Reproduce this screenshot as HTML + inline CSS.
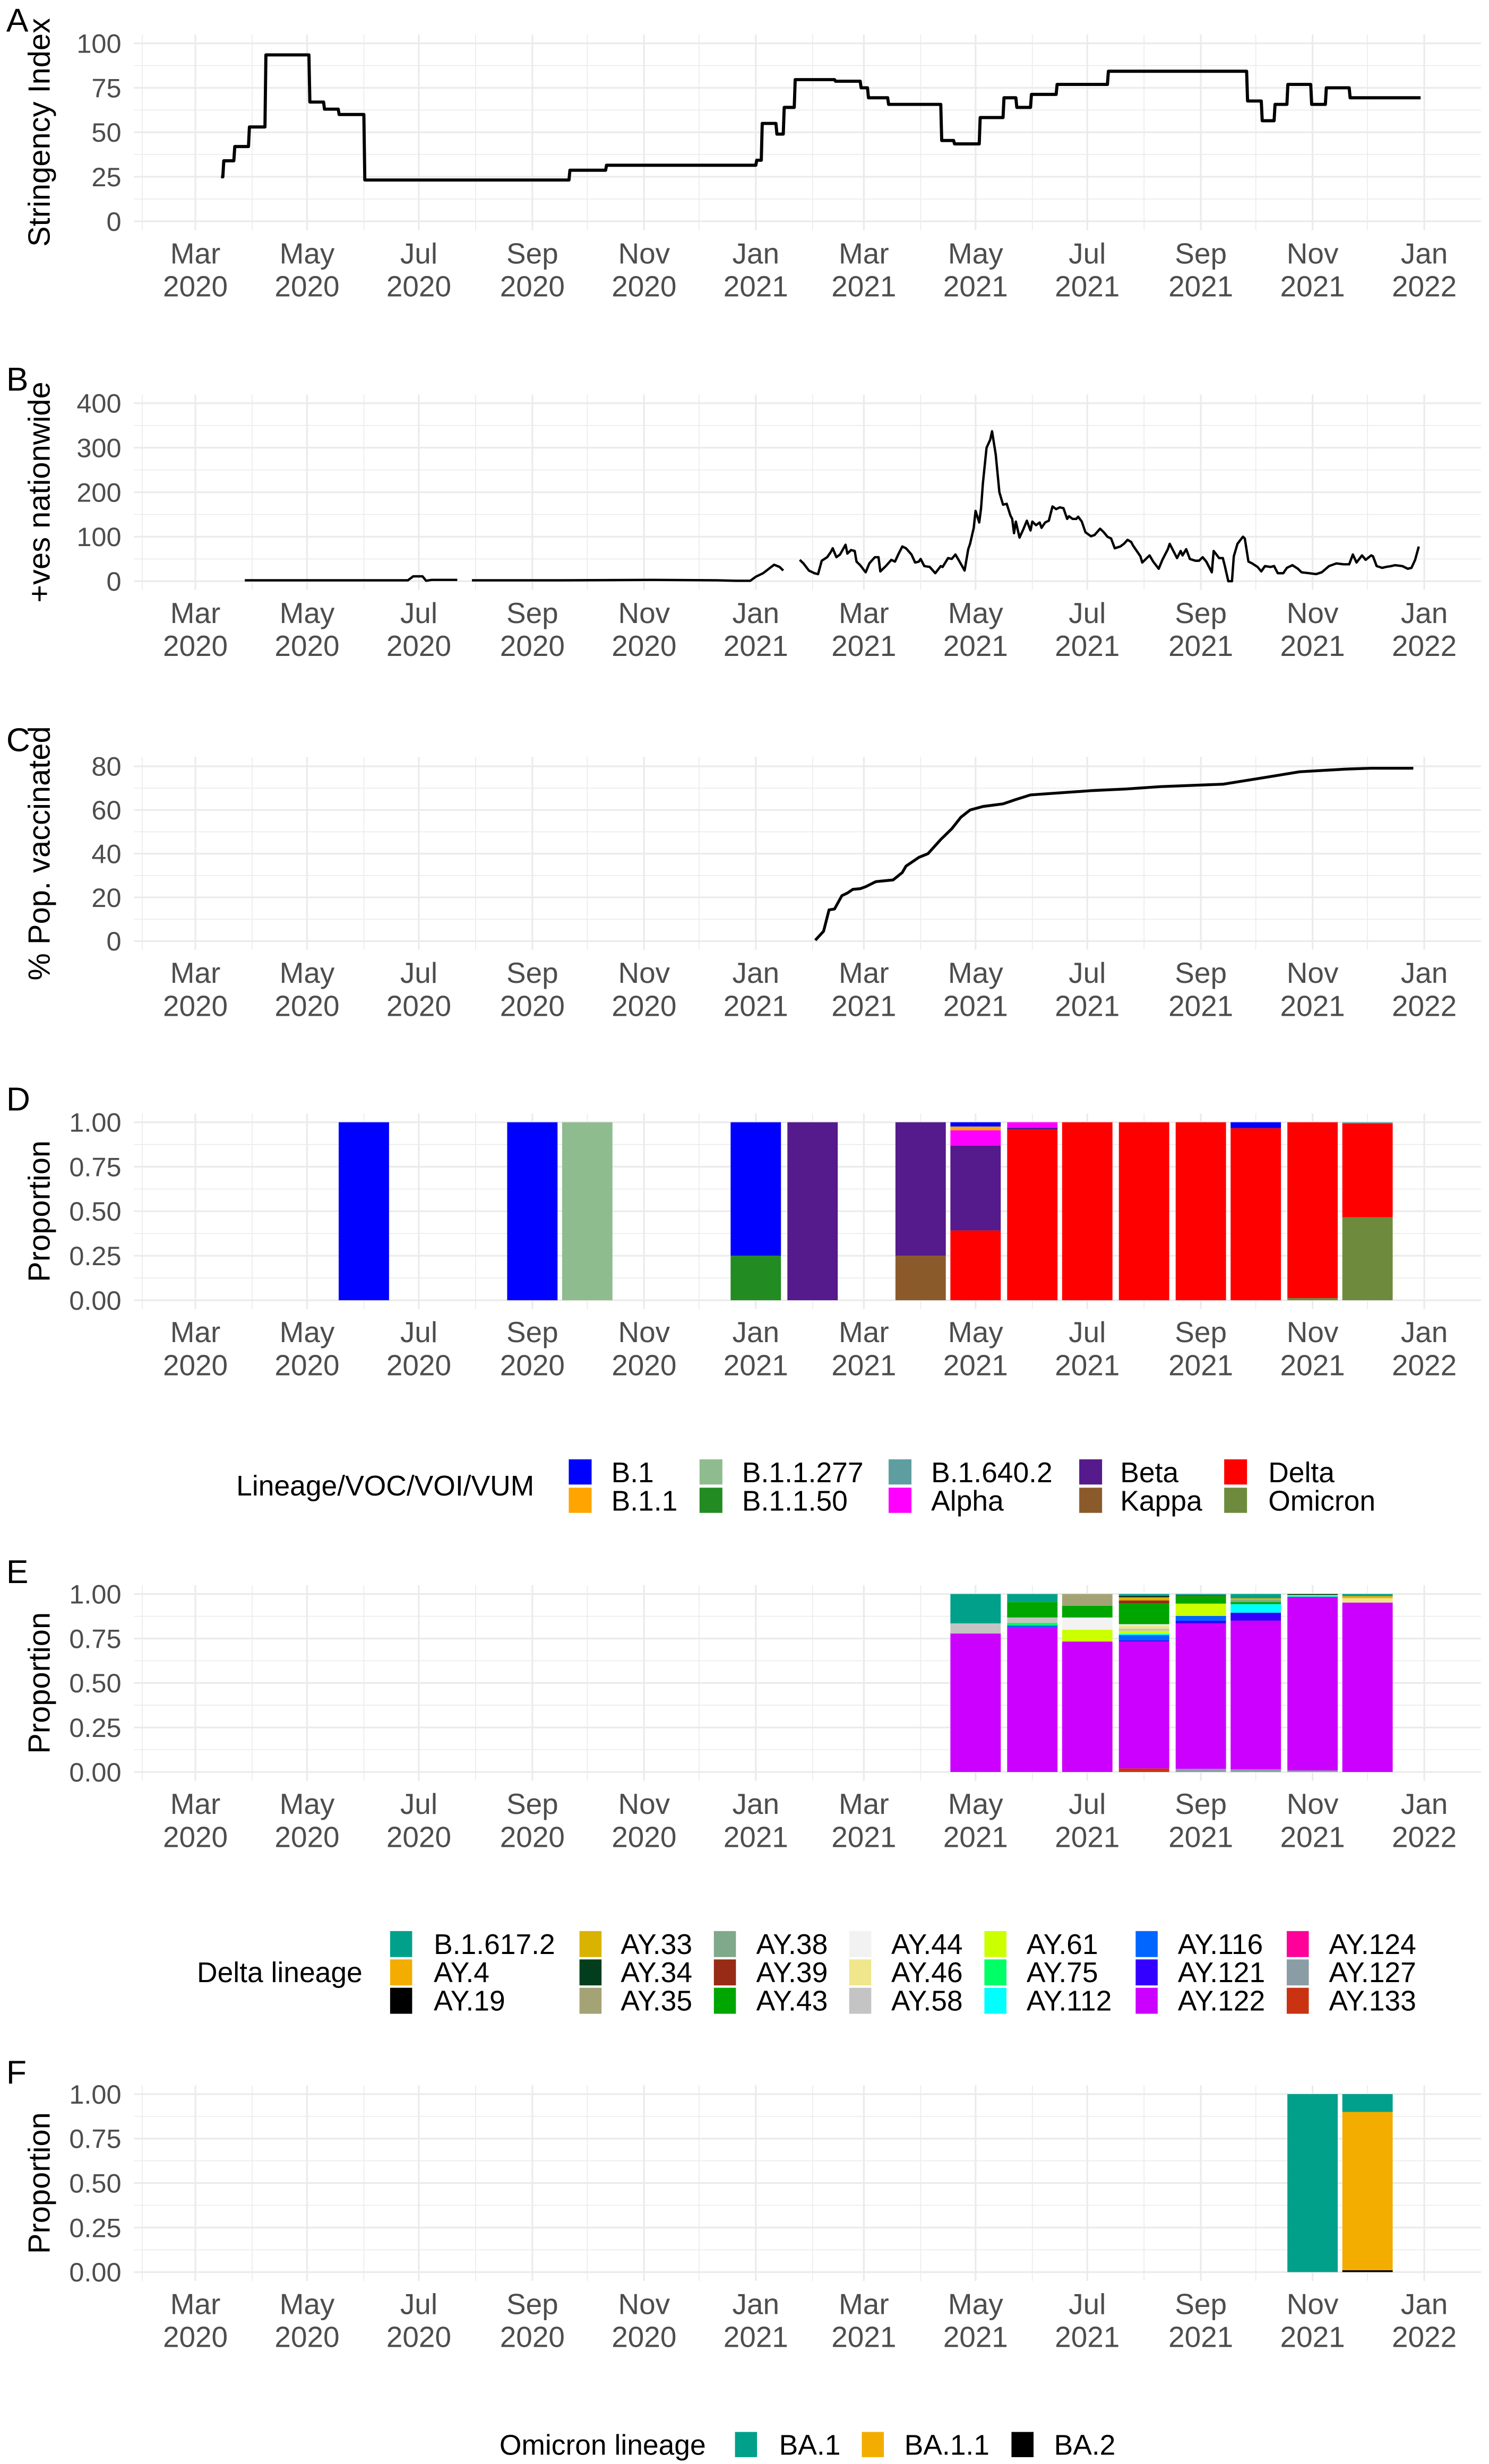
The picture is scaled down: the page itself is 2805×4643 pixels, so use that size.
<!DOCTYPE html>
<html>
<head>
<meta charset="utf-8">
<style>
  html,body{margin:0;padding:0;background:#fff;}
  svg{display:block;}
  text{font-family:"Liberation Sans",Arial,sans-serif;}
</style>
</head>
<body>
<svg id="chart" xmlns="http://www.w3.org/2000/svg" width="2805" height="4643" viewBox="0 0 945.08 1564.35" preserveAspectRatio="none">
  <rect x="0" y="0" width="945.08" height="1564.35" fill="#ffffff"/>
  <g id="grids"></g>
  <g id="marks"></g>
  <g id="labels"></g>

  <!-- Legend D -->
  <g font-size="18" fill="#000" transform="translate(0,-2.5)">
    <text x="150" y="952">Lineage/VOC/VOI/VUM</text>
    <rect x="361" y="929" width="14.5" height="16" fill="#0000FF"/>
    <text x="388" y="943.5">B.1</text>
    <rect x="361" y="947" width="14.5" height="16" fill="#FFA500"/>
    <text x="388" y="961.5">B.1.1</text>
    <rect x="444" y="929" width="14.5" height="16" fill="#8FBC8F"/>
    <text x="471" y="943.5">B.1.1.277</text>
    <rect x="444" y="947" width="14.5" height="16" fill="#228B22"/>
    <text x="471" y="961.5">B.1.1.50</text>
    <rect x="564" y="929" width="14.5" height="16" fill="#5F9EA0"/>
    <text x="591" y="943.5">B.1.640.2</text>
    <rect x="564" y="947" width="14.5" height="16" fill="#FF00FF"/>
    <text x="591" y="961.5">Alpha</text>
    <rect x="685" y="929" width="14.5" height="16" fill="#551A8B"/>
    <text x="711" y="943.5">Beta</text>
    <rect x="685" y="947" width="14.5" height="16" fill="#8B5A2B"/>
    <text x="711" y="961.5">Kappa</text>
    <rect x="777" y="929" width="14.5" height="16" fill="#FF0000"/>
    <text x="805" y="943.5">Delta</text>
    <rect x="777" y="947" width="14.5" height="16" fill="#6E8B3D"/>
    <text x="805" y="961.5">Omicron</text>
  </g>

  <!-- Legend E -->
  <g id="legendE" font-size="18" fill="#000" transform="translate(0,-3)">
    <text x="125" y="1261.5">Delta lineage</text>
  </g>

  <!-- Legend F -->
  <g font-size="18" fill="#000" transform="translate(0,-3)">
    <text x="317" y="1561.5">Omicron lineage</text>
    <rect x="466.5" y="1547" width="14" height="16" fill="#00A08A"/>
    <text x="494.5" y="1561.5">BA.1</text>
    <rect x="547" y="1547" width="14" height="16" fill="#F2AD00"/>
    <text x="574" y="1561.5">BA.1.1</text>
    <rect x="642" y="1547" width="14" height="16" fill="#000000"/>
    <text x="669" y="1561.5">BA.2</text>
  </g>
</svg>

<script>
// ---------------- DATA ----------------
// Panel A: stringency index (step series), days since 2020-03-01
const stringencyDays = [14,15,21,29,38,62,70,78,92,204,224,306,309,317,321,327,349,363,367,378,407,414,428,441,448,456,470,498,574,582,589,596,609,617,630];
const stringencyValues = [25,34,42,53,93.5,67,63,60,23.2,28.7,31.5,34.3,55,49,64,79.6,78.7,75,69.4,65.7,45.4,43.5,58.3,69.4,64,71.3,76.9,84.3,67.6,56.5,65.7,76.9,65.7,75,69.4];
const stringencyEndDay = 669;

// Panel B: daily positives nationwide (null = gap)
const positivesDays = [27,60,100,116,119,124,126,129,143,147,151,200,250,285,295,303,306,310,316,319,321,325,330,332,335,338,340,342,345,347,348,350,352,355,356,358,360,361,363,366,368,371,373,374,377,380,382,384,386,388,391,393,395,396,398,401,404,407,408,411,413,415,417,420,422,423,425,426,428,429,430,432,434,435,437,439,441,443,445,446,447,448,450,452,454,456,457,459,461,462,464,466,468,470,472,474,476,477,479,481,482,484,486,489,491,494,496,498,500,502,505,507,509,511,512,514,516,517,521,523,526,528,531,532,534,536,538,539,541,543,546,548,550,552,555,556,559,561,562,564,566,567,569,572,573,575,577,580,582,584,587,589,591,594,596,599,602,604,608,612,615,619,623,627,630,632,634,637,639,642,643,645,648,650,653,655,659,662,664,666,668];
const positivesValues = [2,2,2,2,11,11,1,3,3,null,2,2,3,2,1,1,10,18,37,32,24,null,48,40,24,18,16,46,54,66,74,54,60,82,62,70,68,44,36,20,40,54,54,22,34,48,44,62,78,74,60,42,44,50,34,32,18,34,32,52,50,60,46,24,72,84,120,158,132,164,220,300,318,337,285,200,172,174,148,140,108,134,98,116,136,114,134,126,132,120,132,136,168,162,166,164,140,146,140,140,145,134,110,101,104,118,110,100,96,74,78,84,93,88,80,68,56,42,58,44,28,48,72,84,68,52,68,58,72,50,46,46,54,44,20,68,52,52,36,0,0,56,84,100,96,44,40,32,22,34,32,34,18,18,30,36,28,20,18,16,20,34,40,38,38,60,42,58,48,58,56,34,30,32,34,36,34,28,30,48,78];

// Panel C: % population vaccinated
const vaccDays = [338.5,343,346,349,353,356,359,363,366,371.5,381,386,388,395,400,407,413,418,423,430,441,448,456,490,508,527,561,582,603,628,642,665];
const vaccValues = [0.4,4.5,14.3,14.7,20.8,22,23.7,24,24.9,27.2,28,31.4,34.3,38.3,40,46.5,51.4,56.7,60,61.6,62.8,64.8,66.9,68.9,69.6,70.7,71.8,74.6,77.5,78.7,79.1,79.1];

// Panel D: lineage proportions by month
const dMonths = ["2020-06","2020-09","2020-10","2021-01","2021-02","2021-04","2021-05","2021-06","2021-07","2021-08","2021-09","2021-10","2021-11","2021-12"];
const dLineages = ["B.1","B.1.1","B.1.1.277","B.1.1.50","B.1.640.2","Alpha","Beta","Kappa","Delta","Omicron"];
const dColors = ["#0000FF","#FFA500","#8FBC8F","#228B22","#5F9EA0","#FF00FF","#551A8B","#8B5A2B","#FF0000","#6E8B3D"];
const dB1      = [1,1,0,0.75,0,0,0.024,0,0,0,0,0.033,0,0];
const dB11     = [0,0,0,0,0,0,0.021,0,0,0,0,0,0,0];
const dB11277  = [0,0,1,0,0,0,0,0,0,0,0,0,0,0];
const dB1150   = [0,0,0,0.25,0,0,0,0,0,0,0,0,0,0];
const dB16402  = [0,0,0,0,0,0,0,0,0,0,0,0,0,0.006];
const dAlpha   = [0,0,0,0,0,0,0.087,0.03,0,0,0,0,0,0];
const dBeta    = [0,0,0,0,1,0.75,0.476,0.012,0,0,0,0,0,0];
const dKappa   = [0,0,0,0,0,0.25,0,0,0,0,0,0,0,0];
const dDelta   = [0,0,0,0,0,0,0.392,0.958,1,1,1,0.967,0.988,0.528];
const dOmicron = [0,0,0,0,0,0,0,0,0,0,0,0,0.012,0.466];
const dSeries = [dB1,dB11,dB11277,dB1150,dB16402,dAlpha,dBeta,dKappa,dDelta,dOmicron];

// Panel E: Delta sub-lineages by month
const eMonths = ["2021-05","2021-06","2021-07","2021-08","2021-09","2021-10","2021-11","2021-12"];
const eLineages = ["B.1.617.2","AY.4","AY.19","AY.33","AY.34","AY.35","AY.38","AY.39","AY.43","AY.44","AY.46","AY.58","AY.61","AY.75","AY.112","AY.116","AY.121","AY.122","AY.124","AY.127","AY.133"];
const eColors = ["#00A08A","#F2AD00","#000000","#D9B300","#023E1D","#A3A375","#80A88A","#972B15","#00A600","#F2F2F2","#F0E68C","#C4C4C4","#CCFF00","#00FF66","#00FFFF","#0066FF","#3300FF","#CC00FF","#FF0099","#8A9DA5","#C93312"];
const eB16172 = [0.165,0.045,0,0.012,0.006,0.024,0,0.012];
const eAY4    = [0,0,0,0,0,0,0,0.012];
const eAY19   = [0,0,0,0.006,0,0,0,0];
const eAY33   = [0,0,0,0.018,0,0.009,0,0];
const eAY34   = [0,0,0,0,0,0,0.006,0];
const eAY35   = [0,0,0.066,0,0,0,0,0];
const eAY38   = [0,0,0,0,0,0.012,0,0];
const eAY39   = [0,0,0,0.018,0.006,0,0,0];
const eAY43   = [0,0.087,0.066,0.116,0.042,0.012,0,0];
const eAY44   = [0,0,0.069,0.007,0,0,0,0];
const eAY46   = [0,0,0,0.018,0,0,0,0.024];
const eAY58   = [0.057,0.03,0,0.012,0,0,0,0];
const eAY61   = [0,0,0.066,0.017,0.069,0,0.006,0];
const eAY75   = [0,0.015,0,0,0,0,0,0];
const eAY112  = [0,0,0,0.007,0,0.048,0.003,0];
const eAY116  = [0,0.013,0,0.03,0.027,0,0.006,0];
const eAY121  = [0,0,0,0.006,0.015,0.045,0,0];
const eAY122  = [0.778,0.81,0.733,0.714,0.817,0.835,0.970,0.952];
const eAY124  = [0,0,0,0,0,0,0,0];
const eAY127  = [0,0,0,0,0.018,0.015,0.009,0];
const eAY133  = [0,0,0,0.02,0,0,0,0];
const eSeries = [eB16172,eAY4,eAY19,eAY33,eAY34,eAY35,eAY38,eAY39,eAY43,eAY44,eAY46,eAY58,eAY61,eAY75,eAY112,eAY116,eAY121,eAY122,eAY124,eAY127,eAY133];

// Panel F: Omicron sub-lineages
const fMonths = ["2021-11","2021-12"];
const fLineages = ["BA.1","BA.1.1","BA.2"];
const fColors = ["#00A08A","#F2AD00","#000000"];
const fBA1  = [1,0.1];
const fBA11 = [0,0.89];
const fBA2  = [0,0.01];
const fSeries = [fBA1,fBA11,fBA2];

// Axis tick labels
const xTickMonths = ["2020-03","2020-05","2020-07","2020-09","2020-11","2021-01","2021-03","2021-05","2021-07","2021-09","2021-11","2022-01"];
const xTickLabels = ["Mar","May","Jul","Sep","Nov","Jan","Mar","May","Jul","Sep","Nov","Jan"];
const xTickYears = ["2020","2020","2020","2020","2020","2021","2021","2021","2021","2021","2021","2022"];
const xMinorMonths = ["2020-02","2020-04","2020-06","2020-08","2020-10","2020-12","2021-02","2021-04","2021-06","2021-08","2021-10","2021-12"];
const yTicksA = [0,25,50,75,100];
const yTicksB = [0,100,200,300,400];
const yTicksC = [0,20,40,60,80];
const yTicksP = [0,0.25,0.5,0.75,1];

// ---------------- HELPERS ----------------
const NS = "http://www.w3.org/2000/svg";
const gGrid = document.getElementById("grids");
const gMarks = document.getElementById("marks");
const gLab = document.getElementById("labels");
const X_LEFT = 85, X_RIGHT = 940;
const DAY_PX = 780/671;
function dayOf(s){ const p = s.split("-").map(Number); return (Date.UTC(p[0],p[1]-1,p[2]||1) - Date.UTC(2020,2,1))/864e5; }
function xScale(day){ return 124 + day*DAY_PX; }
function mk(tag, attrs, parent){ const el = document.createElementNS(NS, tag); for (const k in attrs) el.setAttribute(k, attrs[k]); parent.appendChild(el); return el; }

const panels = {
  A:{zero:140.5, unit:1.13, top:21.9, bottom:146.2, ticks:yTicksA, minor:[12.5,37.5,62.5,87.5], fmt:v=>String(v), title:"Stringency Index", letterY:20},
  B:{zero:369, unit:0.2825, top:250.5, bottom:374.5, ticks:yTicksB, minor:[50,150,250,350], fmt:v=>String(v), title:"+ves nationwide", letterY:248},
  C:{zero:597.5, unit:1.3875, top:480.5, bottom:603, ticks:yTicksC, minor:[10,30,50,70], fmt:v=>String(v), title:"% Pop. vaccinated", letterY:477},
  D:{zero:825.5, unit:113, top:706.9, bottom:831.1, ticks:yTicksP, minor:[0.125,0.375,0.625,0.875], fmt:v=>v.toFixed(2), title:"Proportion", letterY:705},
  E:{zero:1125, unit:113, top:1006.4, bottom:1130.6, ticks:yTicksP, minor:[0.125,0.375,0.625,0.875], fmt:v=>v.toFixed(2), title:"Proportion", letterY:1005},
  F:{zero:1442.5, unit:113, top:1323.9, bottom:1448.1, ticks:yTicksP, minor:[0.125,0.375,0.625,0.875], fmt:v=>v.toFixed(2), title:"Proportion", letterY:1323}
};
function yS(p, v){ return p.zero - v*p.unit; }

// ---------------- AXES / GRIDS ----------------
for (const key in panels){
  const p = panels[key];
  const lk = key.toLowerCase();
  p.minor.forEach(v=>{
    const l = mk("line",{x1:X_LEFT,x2:X_RIGHT,y1:yS(p,v),y2:yS(p,v),stroke:"#EBEBEB","stroke-width":0.55},gGrid);
    
    
  });
  xMinorMonths.forEach(m=>{
    const x = xScale(dayOf(m));
    const l = mk("line",{x1:x,x2:x,y1:p.top,y2:p.bottom,stroke:"#EBEBEB","stroke-width":0.55},gGrid);
    
    
  });
  p.ticks.forEach(v=>{
    const y = yS(p,v);
    const l = mk("line",{x1:X_LEFT,x2:X_RIGHT,y1:y,y2:y,stroke:"#EBEBEB","stroke-width":1.1},gGrid);
    
    
    const t = mk("text",{x:77,y:y+6,"text-anchor":"end","font-size":17,fill:"#4D4D4D"},gLab);
    t.textContent = p.fmt(v);
    
    
  });
  xTickMonths.forEach((m,i)=>{
    const x = xScale(dayOf(m));
    const l = mk("line",{x1:x,x2:x,y1:p.top,y2:p.bottom,stroke:"#EBEBEB","stroke-width":1.1},gGrid);
    
    
    const t1 = mk("text",{x:x,y:p.bottom+21,"text-anchor":"middle","font-size":18.5,fill:"#4D4D4D"},gLab);
    t1.textContent = xTickLabels[i];
    
    
    const t2 = mk("text",{x:x,y:p.bottom+42,"text-anchor":"middle","font-size":18.5,fill:"#4D4D4D"},gLab);
    t2.textContent = xTickYears[i];
    
    
  });
  const cy = (p.top+p.bottom)/2;
  const tt = mk("text",{x:0,y:0,"text-anchor":"middle","font-size":19.5,fill:"#000",transform:`translate(31.5,${cy}) rotate(-90)`},gLab);
  tt.textContent = p.title;
  
  
  const lt = mk("text",{x:4,y:p.letterY,"font-size":21,fill:"#000"},gLab);
  lt.textContent = key;
  
  
}

// ---------------- PANEL A: step line ----------------
(function(){
  const p = panels.A;
  let d = `M${xScale(stringencyDays[0])},${yS(p,stringencyValues[0])}`;
  for (let i=1;i<stringencyDays.length;i++){
    const x = xScale(stringencyDays[i]);
    d += ` L${x},${yS(p,stringencyValues[i-1])} L${x+0.6},${yS(p,stringencyValues[i])}`;
  }
  d += ` L${xScale(stringencyEndDay)},${yS(p,stringencyValues[stringencyValues.length-1])}`;
  const path = mk("path",{d:d,fill:"none",stroke:"#000","stroke-width":2,"stroke-linejoin":"round"},gMarks);
  
  
})();

// ---------------- PANEL B: positives line ----------------
(function(){
  const p = panels.B;
  let d = ""; let pen = false;
  for (let i=0;i<positivesDays.length;i++){
    const v = positivesValues[i];
    if (v === null){ pen = false; continue; }
    d += (pen ? " L" : " M") + xScale(positivesDays[i]) + "," + yS(p,v);
    pen = true;
  }
  const path = mk("path",{d:d.trim(),fill:"none",stroke:"#000","stroke-width":1.5,"stroke-linejoin":"round"},gMarks);
  
  
})();

// ---------------- PANEL C: vaccination line ----------------
(function(){
  const p = panels.C;
  const d = vaccDays.map((dd,i)=>(i?"L":"M")+xScale(dd)+","+yS(p,vaccValues[i])).join(" ");
  const path = mk("path",{d:d,fill:"none",stroke:"#000","stroke-width":1.8,"stroke-linejoin":"round"},gMarks);
  
  
})();

// ---------------- STACKED BARS ----------------
function drawStack(p, months, series, colors, names, prefix){
  const halfW = 13.75*DAY_PX;
  months.forEach((m,j)=>{
    const cx = xScale(dayOf(m));
    let total = 0; series.forEach(s=>{ total += s[j]; });
    if (total <= 0) return;
    let cum = 0;
    for (let k=series.length-1;k>=0;k--){
      const v = series[k][j]/total;
      if (v <= 0) continue;
      const y1 = yS(p,cum+v), y0 = yS(p,cum);
      const r = mk("rect",{x:cx-halfW,y:y1,width:2*halfW,height:y0-y1,fill:colors[k]},gMarks);
      
      
      cum += v;
    }
  });
}
drawStack(panels.D, dMonths, dSeries, dColors, dLineages, "lineage");
drawStack(panels.E, eMonths, eSeries, eColors, eLineages, "delta");
drawStack(panels.F, fMonths, fSeries, fColors, fLineages, "omicron");

// ---------------- LEGEND E ----------------
(function(){
  const g = document.getElementById("legendE");
  const keyX = [247.6,367.8,453.1,539,624.8,720.8,816.7];
  const labX = [275.3,394,480,565.7,651.6,747.6,843.5];
  const rowY = [1229,1247,1265];
  eLineages.forEach((nm,i)=>{
    const col = Math.floor(i/3), row = i%3;
    const r = mk("rect",{x:keyX[col],y:rowY[row],width:14,height:16.5,fill:eColors[i]},g);
    
    
    const t = mk("text",{x:labX[col],y:rowY[row]+14.5},g);
    t.textContent = nm;
    
    
  });
})();
</script>
</body>
</html>
